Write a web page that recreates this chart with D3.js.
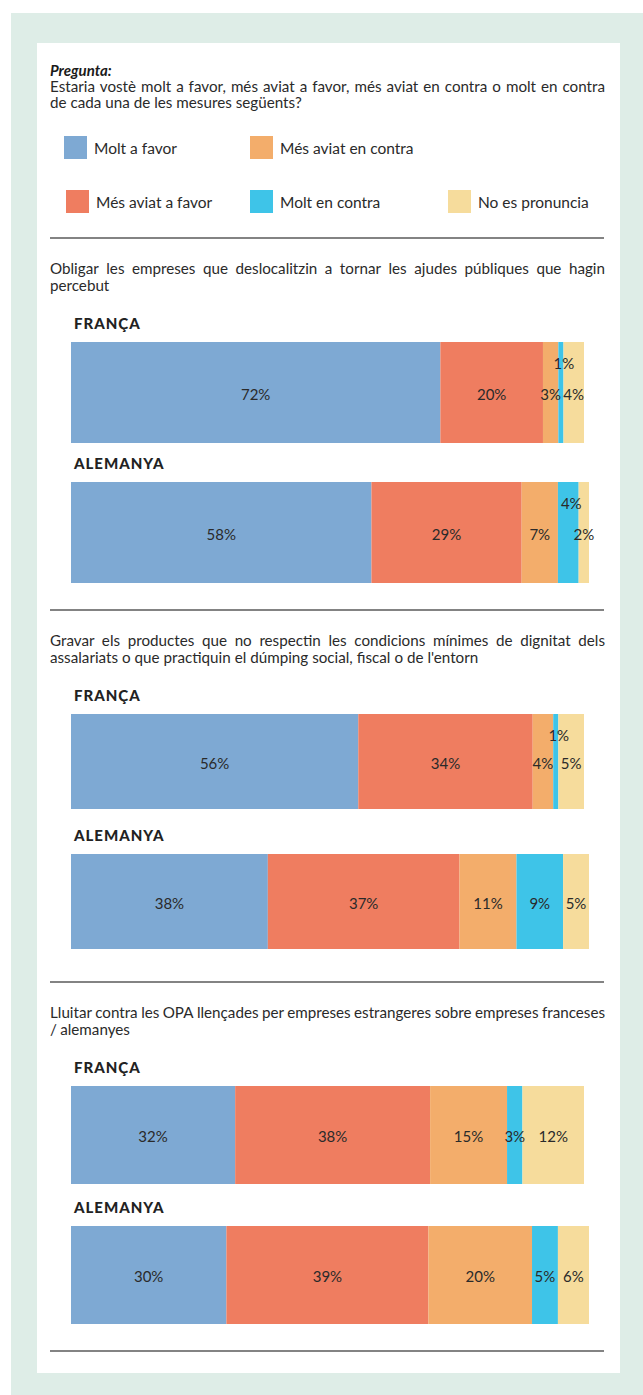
<!DOCTYPE html>
<html>
<head>
<meta charset="utf-8">
<script src="https://cdn.jsdelivr.net/npm/d3@7"></script>
<style>
  body { margin: 0; background: #fff; }
  svg { display: block; font-family: Lato, "Open Sans", sans-serif; }
</style>
</head>
<body>
<div id="chart"></div>
<script>
// Stacked 100% bars, three questions x two countries.
const categories = ["Molt a favor", "Més aviat a favor", "Més aviat en contra", "Molt en contra", "No es pronuncia"];
const colors = ["#7ea9d3", "#ef7d60", "#f3ad6b", "#3ec4e8", "#f6dc9c"];
const countries = ["FRANÇA", "ALEMANYA"];

const questionLines = [
  ["Obligar les empreses que deslocalitzin a tornar les ajudes públiques que hagin", "percebut"],
  ["Gravar els productes que no respectin les condicions mínimes de dignitat dels", "assalariats o que practiquin el dúmping social, fiscal o de l'entorn"],
  ["Lluitar contra les OPA llençades per empreses estrangeres sobre empreses franceses", "/ alemanyes"]
];

const franca   = [[72, 20, 3, 1, 4], [56, 34, 4, 1, 5], [32, 38, 15, 3, 12]];
const alemanya = [[58, 29, 7, 4, 2], [38, 37, 11, 9, 5], [30, 39, 20, 5, 6]];
// index of the segment whose label sits above the others (tiny slices)
const francaRaised   = [[3], [3], []];
const alemanyaRaised = [[3], [], []];

const W = 643, H = 1395;
const svg = d3.select("#chart").append("svg").attr("width", W).attr("height", H);

// frame
svg.append("rect").attr("x", 11).attr("y", 13).attr("width", W - 11).attr("height", H - 13).attr("fill", "#deede7");
svg.append("rect").attr("x", 37).attr("y", 43).attr("width", 583).attr("height", 1330).attr("fill", "#fff");

const textColor = "#2a2a2a";
const X0 = 50, X1 = 605;
const QSIZE = 15.2;

// justified line: one text, one tspan per word
function justified(y, line, size, last) {
  const t = svg.append("text").attr("y", y).attr("font-size", size).attr("fill", textColor);
  const words = line.split(" ");
  const spans = words.map(w => t.append("tspan").text(w));
  const widths = spans.map(s => s.node().getComputedTextLength());
  const space = size * 0.26;
  const gap = last ? space : (X1 - X0 - d3.sum(widths)) / (words.length - 1);
  let x = X0;
  spans.forEach((s, i) => { s.attr("x", x); x += widths[i] + gap; });
}

// question header
svg.append("text").attr("x", X0).attr("y", 76).attr("font-size", 15)
  .attr("font-weight", 700).attr("font-style", "italic").attr("fill", "#1a1a1a").text("Pregunta:");
justified(92, "Estaria vostè molt a favor, més aviat a favor, més aviat en contra o molt en contra", QSIZE, false);
justified(108, "de cada una de les mesures següents?", QSIZE, true);

// legend
const legendPos = [
  { x: 64, y: 136 }, { x: 66, y: 190 }, { x: 250, y: 136 }, { x: 250, y: 190 }, { x: 448, y: 190 }
];
const legend = svg.append("g").selectAll("g").data(categories).join("g")
  .attr("transform", (d, i) => `translate(${legendPos[i].x},${legendPos[i].y})`);
legend.append("rect").attr("width", 23).attr("height", 23).attr("fill", (d, i) => colors[i]);
legend.append("text").attr("x", 30).attr("y", 18).attr("font-size", 15.5).attr("fill", textColor).text(d => d);

// dividers
const dividers = [238, 610, 982, 1351];
svg.append("g").selectAll("line").data(dividers).join("line")
  .attr("x1", X0).attr("x2", 604).attr("y1", d => d).attr("y2", d => d)
  .attr("stroke", "#5a5a5a").attr("stroke-width", 1.5);

const barH = [101, 95, 98];
const rows = [
  { name: countries[0], data: franca, raised: francaRaised, right: 584, labelDy: 91, barDy: 104 },
  { name: countries[1], data: alemanya, raised: alemanyaRaised, right: 589, labelDy: 231, barDy: 244 }
];

questionLines.forEach((lines, q) => {
  const top = dividers[q];
  lines.forEach((l, i) => justified(top + 36 + i * 17, l, QSIZE, i === lines.length - 1));

  rows.forEach(row => {
    const values = row.data[q];
    const x = d3.scaleLinear().domain([0, d3.sum(values)]).range([71, row.right]);
    const ends = d3.cumsum(values);
    const segs = values.map((v, i) => ({ v, i, x0: ends[i] - v, x1: ends[i] }));
    const y0 = top + row.barDy, h = barH[q];

    svg.append("text").attr("x", 74).attr("y", top + row.labelDy)
      .attr("font-size", 15).attr("font-weight", 900).attr("letter-spacing", 1)
      .attr("fill", "#222").text(row.name);

    const g = svg.append("g");
    g.selectAll("rect").data(segs).join("rect")
      .attr("x", d => x(d.x0)).attr("width", d => x(d.x1) - x(d.x0))
      .attr("y", y0).attr("height", h).attr("fill", d => colors[d.i]);

    g.selectAll("text").data(segs).join("text")
      .attr("x", d => (x(d.x0) + x(d.x1)) / 2 + (row.raised[q].includes(d.i) ? 3 : 0))
      .attr("y", d => row.raised[q].includes(d.i) ? y0 + 22 : y0 + h / 2 + 2)
      .attr("dy", "0.35em").attr("text-anchor", "middle")
      .attr("font-size", 15).attr("fill", textColor)
      .text(d => d.v + "%");
  });
});
</script>
</body>
</html>
